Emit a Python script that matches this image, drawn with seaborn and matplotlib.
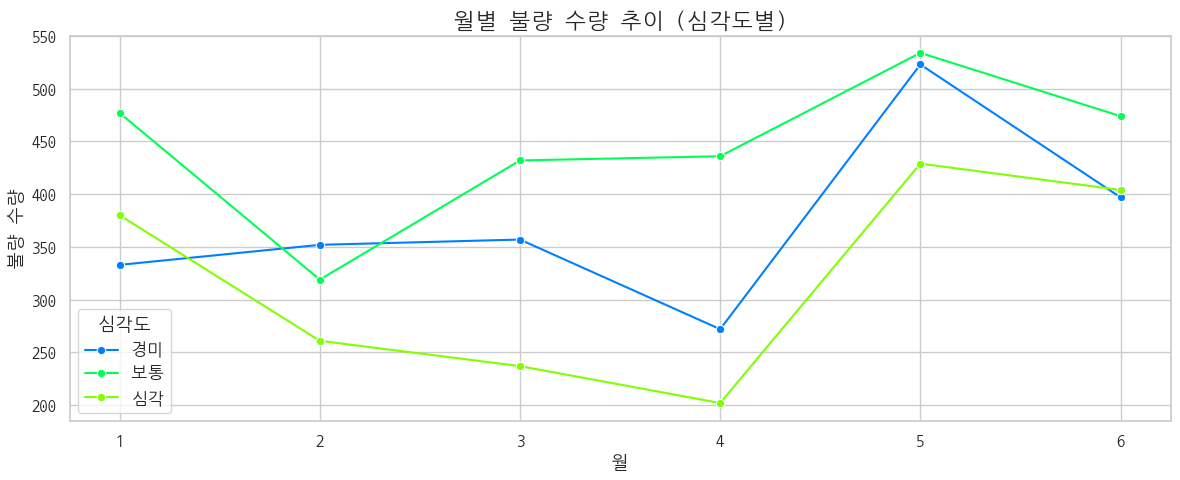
import matplotlib.pyplot as plt
import pandas as pd
import seaborn as sns

sns.set_theme(style="whitegrid")
plt.rcParams['font.family'] = ['NanumGothicCoding', 'Noto Sans CJK KR', 'DejaVu Sans']

months = [1, 2, 3, 4, 5, 6]
mild = [333, 352, 357, 272, 523, 397]
normal = [477, 319, 432, 436, 534, 474]
severe = [380, 261, 237, 202, 429, 404]
levels = ['경미', '보통', '심각']
colors = ['#0080ff', '#00ff55', '#80ff00']

rows = []
for lvl, vals in zip(levels, [mild, normal, severe]):
    for m, v in zip(months, vals):
        rows.append({'월': m, '불량 수량': v, '심각도': lvl})
df = pd.DataFrame(rows)

fig, ax = plt.subplots(figsize=(11.8, 4.8), dpi=100)
sns.lineplot(data=df, x='월', y='불량 수량', hue='심각도', hue_order=levels,
             palette=colors, marker='o', ax=ax)

ax.set_title('월별 불량 수량 추이 (심각도별)', fontsize=16)
ax.set_xlabel('월', fontsize=13)
ax.set_ylabel('불량 수량', fontsize=13)
ax.tick_params(labelsize=12)
ax.set_xticks(months)
ax.set_ylim(185, 550)
ax.legend(title='심각도', loc='lower left', fontsize=12, title_fontsize=13)

fig.subplots_adjust(left=0.059, right=0.992, top=0.925, bottom=0.123)
plt.savefig('out.png')
